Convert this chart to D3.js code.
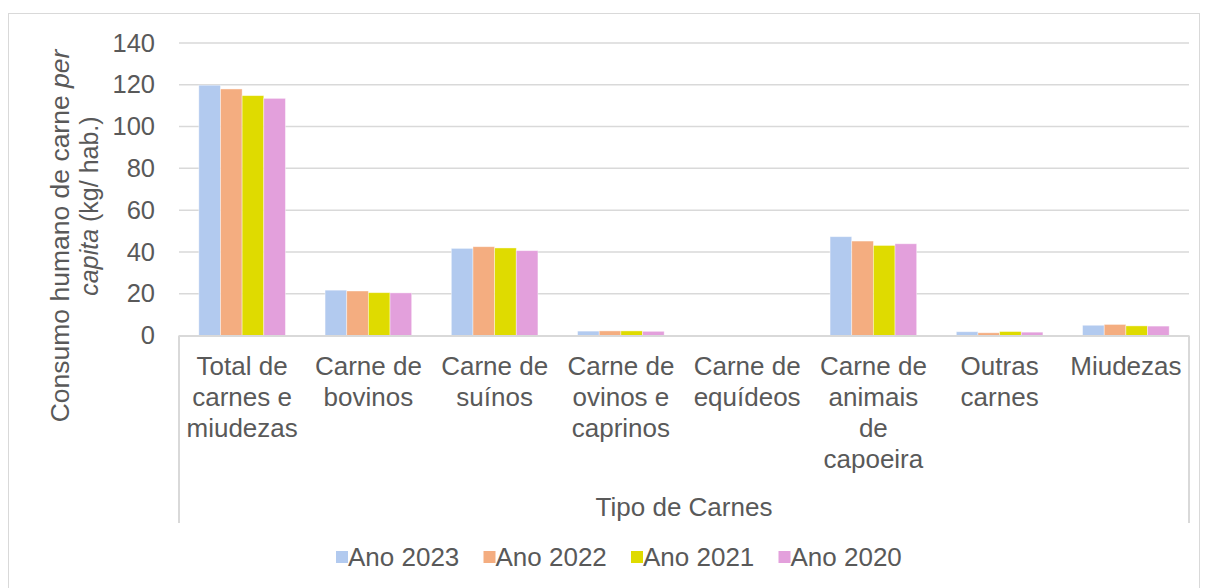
<!DOCTYPE html>
<html>
<head>
<meta charset="utf-8">
<script src="https://cdn.jsdelivr.net/npm/d3@7"></script>
<style>
  body { margin: 0; background: #fff; }
  text { font-family: "Liberation Sans", Arial, sans-serif; fill: #595959; }
</style>
</head>
<body>
<div id="chart"></div>
<script>
let categories = [
  "Total de\ncarnes e\nmiudezas",
  "Carne de\nbovinos",
  "Carne de\nsuínos",
  "Carne de\novinos e\ncaprinos",
  "Carne de\nequídeos",
  "Carne de\nanimais\nde\ncapoeira",
  "Outras\ncarnes",
  "Miudezas"
];
let seriesNames = ["Ano 2023", "Ano 2022", "Ano 2021", "Ano 2020"];
let ano2023 = [119.8, 21.7, 41.7, 2.1, 0, 47.3, 1.8, 4.9];
let ano2022 = [118.0, 21.3, 42.5, 2.2, 0, 45.2, 1.3, 5.3];
let ano2021 = [114.8, 20.5, 41.9, 2.2, 0, 43.1, 1.9, 4.6];
let ano2020 = [113.5, 20.4, 40.6, 2.0, 0, 43.9, 1.6, 4.5];
let yTicks = [0, 20, 40, 60, 80, 100, 120, 140];
let colors = ["#b2caef", "#f4ad80", "#dfdb00", "#e3a0dc"];

let allSeries = [ano2023, ano2022, ano2021, ano2020];

let W = 1208, H = 588;
let plot = { left: 179, right: 1189, top: 43, bottom: 335.5 };

let svg = d3.select("#chart")
  .append("svg")
  .attr("width", W)
  .attr("height", H);

// outer chart border
svg.append("rect")
  .attr("x", 8.5).attr("y", 13.5)
  .attr("width", 1191).attr("height", 600)
  .attr("fill", "none")
  .attr("stroke", "#d9d9d9")
  .attr("stroke-width", 1);

let y = d3.scaleLinear().domain([0, 140]).range([plot.bottom, plot.top]);

let x0 = d3.scaleBand()
  .domain(categories)
  .range([plot.left, plot.right])
  .paddingInner(0.314)
  .paddingOuter(0.157);

let x1 = d3.scaleBand()
  .domain(seriesNames)
  .range([0, x0.bandwidth()]);

// gridlines
svg.append("g")
  .selectAll("line")
  .data(yTicks.filter(function (d) { return d > 0; }))
  .enter()
  .append("line")
  .attr("x1", plot.left).attr("x2", plot.right)
  .attr("y1", function (d) { return y(d); })
  .attr("y2", function (d) { return y(d); })
  .attr("stroke", "#d9d9d9")
  .attr("stroke-width", 1.5);

// y tick labels
let yAxis = svg.append("g")
  .attr("transform", "translate(" + plot.left + ",0)")
  .call(d3.axisLeft(y).tickValues(yTicks).tickSize(0).tickPadding(24));
yAxis.select(".domain").remove();
yAxis.selectAll("text")
  .style("font-size", "25.5px")
  .attr("fill", "#595959")
  .style("font-family", "'Liberation Sans', Arial, sans-serif");

// bars
let groups = svg.append("g")
  .selectAll("g")
  .data(categories)
  .enter()
  .append("g")
  .attr("transform", function (d) { return "translate(" + x0(d) + ",0)"; });

groups.selectAll("rect")
  .data(function (d, i) {
    return seriesNames.map(function (s, j) {
      return { series: s, value: allSeries[j][i], idx: j };
    });
  })
  .enter()
  .append("rect")
  .attr("x", function (d) { return x1(d.series); })
  .attr("width", x1.bandwidth())
  .attr("y", function (d) { return y(d.value); })
  .attr("height", function (d) { return y(0) - y(d.value); })
  .attr("fill", function (d) { return colors[d.idx]; })
  .attr("stroke", "#ffffff")
  .attr("stroke-opacity", 0.5)
  .attr("stroke-width", 0.8);

// category axis box
let axisBottom = 523;
svg.append("line")
  .attr("x1", plot.left).attr("x2", plot.right)
  .attr("y1", plot.bottom + 0.5).attr("y2", plot.bottom + 0.5)
  .attr("stroke", "#d9d9d9").attr("stroke-width", 2);
[plot.left, plot.right].forEach(function (xx) {
  svg.append("line")
    .attr("x1", xx).attr("x2", xx)
    .attr("y1", plot.bottom).attr("y2", axisBottom)
    .attr("stroke", "#d9d9d9").attr("stroke-width", 2);
});

// category labels
let catLabels = svg.append("g")
  .selectAll("text")
  .data(categories)
  .enter()
  .append("text")
  .attr("text-anchor", "middle")
  .style("font-size", "26px")
  .attr("x", function (d) { return x0(d) + x0.bandwidth() / 2; })
  .attr("y", 375);

catLabels.selectAll("tspan")
  .data(function (d) { return d.split("\n"); })
  .enter()
  .append("tspan")
  .attr("x", function () { return d3.select(this.parentNode).attr("x"); })
  .attr("dy", function (d, i) { return i === 0 ? 0 : 31; })
  .text(function (d) { return d; });

// x axis title
svg.append("text")
  .attr("x", (plot.left + plot.right) / 2)
  .attr("y", 516)
  .attr("text-anchor", "middle")
  .style("font-size", "26px")
  .text("Tipo de Carnes");

// y axis title (two lines)
let yt1 = svg.append("text")
  .attr("transform", "translate(69,236) rotate(-90)")
  .attr("text-anchor", "middle")
  .style("font-size", "26.5px");
yt1.append("tspan").text("Consumo humano de carne ");
yt1.append("tspan").style("font-style", "italic").text("per");

let yt2 = svg.append("text")
  .attr("transform", "translate(98,206) rotate(-90)")
  .attr("text-anchor", "middle")
  .style("font-size", "25px");
yt2.append("tspan").style("font-style", "italic").text("capita");
yt2.append("tspan").text(" (kg/ hab.)");

// legend
let legend = svg.append("g")
  .selectAll("g")
  .data(seriesNames)
  .enter()
  .append("g")
  .attr("transform", function (d, i) { return "translate(" + (336 + i * 147.5) + ",551)"; });

legend.append("rect")
  .attr("width", 12).attr("height", 12)
  .attr("fill", function (d, i) { return colors[i]; });

legend.append("text")
  .attr("x", 12)
  .attr("y", 15)
  .style("font-size", "26px")
  .text(function (d) { return d; });
</script>
</body>
</html>
